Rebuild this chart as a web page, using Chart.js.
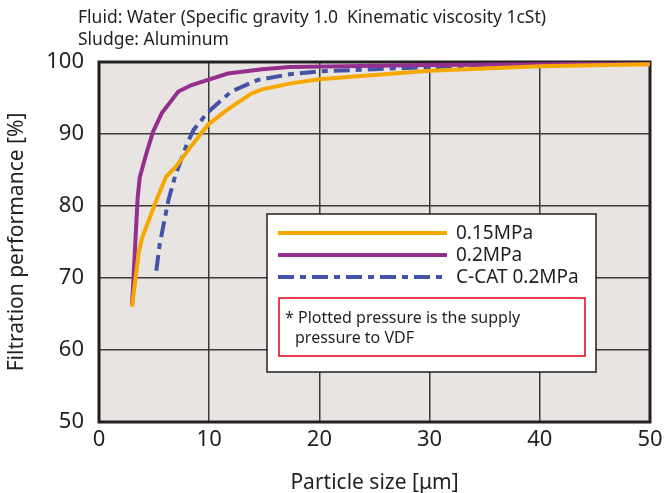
<!DOCTYPE html>
<html>
<head>
<meta charset="utf-8">
<script src="https://cdn.jsdelivr.net/npm/chart.js@4"></script>
<style>
  body { margin: 0; background: #fff; }
  #wrap { width: 668px; height: 493px; }
</style>
</head>
<body>
<div id="wrap"><canvas id="chart" width="668" height="493"></canvas></div>
<script>
// DATA
const seriesNames = ["0.15MPa", "0.2MPa", "C-CAT 0.2MPa"];
const size015 = [3.0, 3.6, 3.9, 5.2, 6.1, 7.0, 8.1, 9.9, 11.4, 13.8, 14.8, 17.3, 20.0, 30.0, 40.0, 50.0];
const perf015 = [66.0, 73.5, 75.5, 80.8, 84.1, 85.5, 87.8, 91.3, 93.1, 95.6, 96.2, 97.0, 97.6, 98.8, 99.4, 99.7];
const size02 = [3.0, 3.5, 3.7, 4.3, 4.9, 5.7, 7.2, 8.4, 11.7, 14.8, 17.3, 30.0, 40.0, 50.0];
const perf02 = [66.2, 81.0, 84.0, 87.3, 90.3, 92.9, 95.9, 96.8, 98.4, 99.0, 99.3, 99.6, 99.7, 99.8];
const sizeCcat = [5.2, 5.5, 6.3, 6.9, 8.0, 8.6, 9.8, 12.0, 14.4, 17.3, 20.0, 30.0, 40.0, 50.0];
const perfCcat = [71.0, 74.6, 80.8, 84.1, 88.7, 90.6, 92.9, 95.9, 97.5, 98.3, 98.7, 99.3, 99.6, 99.8];
const titleLines = ["Fluid: Water (Specific gravity 1.0  Kinematic viscosity 1cSt)", "Sludge: Aluminum"];
const noteLines = ["* Plotted pressure is the supply", "pressure to VDF"];

const FONT = "'Noto Sans', 'Liberation Sans', sans-serif";
const INK = "#231f20";

function pts(xs, ys) {
  return xs.map((x, i) => ({ x: x, y: ys[i] }));
}

// background, frame, title and legend box
const decor = {
  id: "decor",
  beforeDraw(chart) {
    const { ctx, chartArea: a } = chart;
    ctx.save();
    ctx.fillStyle = "#e8e4e1";
    ctx.fillRect(a.left, a.top, a.right - a.left, a.bottom - a.top);
    ctx.fillStyle = INK;
    ctx.font = "17.5px " + FONT;
    ctx.textBaseline = "alphabetic";
    ctx.fillText(titleLines[0], 78, 23);
    ctx.fillText(titleLines[1], 78, 45);
    ctx.restore();
  },
  beforeDatasetsDraw(chart) {
    const { ctx, chartArea: a } = chart;
    ctx.save();
    ctx.strokeStyle = INK;
    ctx.lineWidth = 3;
    ctx.strokeRect(a.left, a.top, a.right - a.left, a.bottom - a.top);
    ctx.restore();
  },
  afterDatasetsDraw(chart) {
    const { ctx } = chart;
    ctx.save();
    // legend box
    ctx.fillStyle = "#fff";
    ctx.fillRect(267, 214, 329, 158);
    ctx.strokeStyle = INK;
    ctx.lineWidth = 1.5;
    ctx.strokeRect(267, 214, 329, 158);
    ctx.font = "19px " + FONT;
    ctx.textBaseline = "middle";
    chart.data.datasets.forEach((ds, i) => {
      const y = 233 + i * 22;
      ctx.strokeStyle = ds.borderColor;
      ctx.lineWidth = 4;
      ctx.setLineDash(ds.borderDash || []);
      ctx.beginPath();
      ctx.moveTo(278, y);
      ctx.lineTo(447, y);
      ctx.stroke();
      ctx.setLineDash([]);
      ctx.fillStyle = INK;
      ctx.fillText(ds.label, 456, y + 1);
    });
    // note box
    ctx.strokeStyle = "#e60012";
    ctx.lineWidth = 1.5;
    ctx.strokeRect(279, 298, 306, 58);
    ctx.fillStyle = INK;
    ctx.font = "16px " + FONT;
    ctx.fillText(noteLines[0], 285, 318);
    ctx.fillText(noteLines[1], 295, 338);
    ctx.restore();
  }
};

new Chart(document.getElementById("chart").getContext("2d"), {
  type: "line",
  data: {
    datasets: [
      {
        label: seriesNames[0],
        data: pts(size015, perf015),
        borderColor: "#f6a800",
        borderWidth: 4,
        pointRadius: 0,
        tension: 0,
      },
      {
        label: seriesNames[1],
        data: pts(size02, perf02),
        borderColor: "#952f8e",
        borderWidth: 4,
        pointRadius: 0,
        tension: 0,
      },
      {
        label: seriesNames[2],
        data: pts(sizeCcat, perfCcat),
        borderColor: "#4253a8",
        borderWidth: 4,
        borderDash: [16, 6, 6, 6],
        pointRadius: 0,
        tension: 0,
      },
    ],
  },
  options: {
    responsive: false,
    animation: false,
    layout: { padding: { top: 62, right: 18, left: 0, bottom: 0 } },
    plugins: {
      legend: { display: false },
      title: { display: false },
      tooltip: { enabled: false },
    },
    scales: {
      x: {
        type: "linear",
        min: 0,
        max: 50,
        ticks: { stepSize: 10, color: INK, font: { family: FONT, size: 22 }, padding: 5 },
        grid: { color: "#3a3a3a", lineWidth: 1.5, tickLength: 0 },
        border: { display: false },
        title: {
          display: true,
          text: "Particle size [\u03bcm]",
          color: INK,
          font: { family: FONT, size: 21 },
          padding: { top: 12, bottom: -3 },
        },
        afterFit(scale) { scale.height = 71; },
      },
      y: {
        min: 50,
        max: 100,
        ticks: { stepSize: 10, color: INK, font: { family: FONT, size: 22 }, padding: 15 },
        grid: { color: "#3a3a3a", lineWidth: 1.5, tickLength: 0 },
        border: { display: false },
        title: {
          display: true,
          text: "Filtration performance [%]",
          color: INK,
          font: { family: FONT, size: 21 },
        },
        afterFit(scale) { scale.width = 99; },
      },
    },
  },
  plugins: [decor],
});
</script>
</body>
</html>
